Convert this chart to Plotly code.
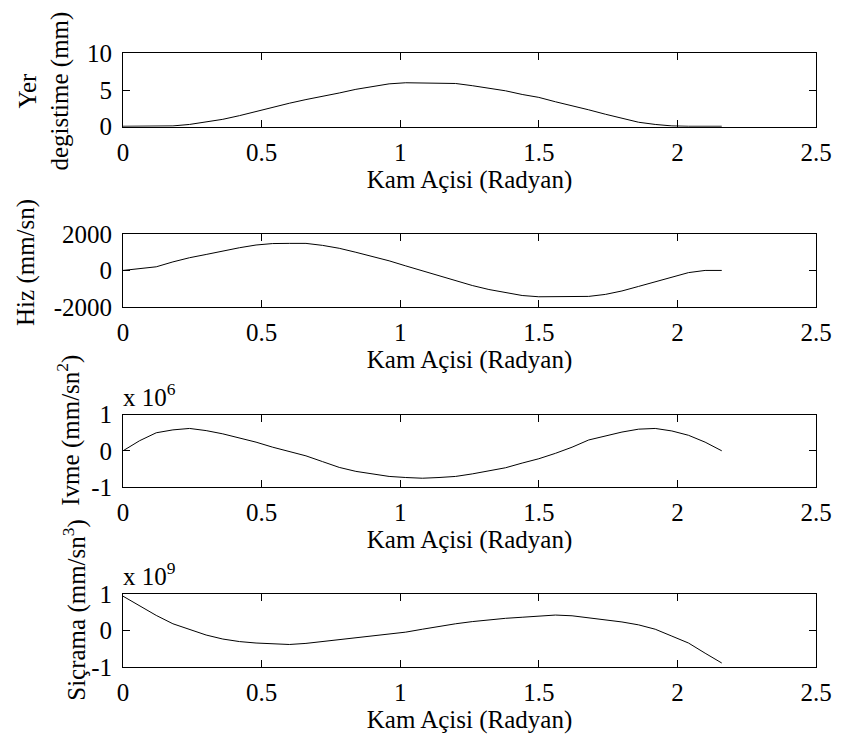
import plotly.graph_objects as go

# ---- data ----
theta = [0.00, 0.06, 0.12, 0.18, 0.24, 0.30, 0.36, 0.42, 0.48, 0.54, 0.60, 0.66,
         0.72, 0.78, 0.84, 0.90, 0.96, 1.02, 1.08, 1.14, 1.20, 1.26, 1.32, 1.38,
         1.44, 1.50, 1.56, 1.62, 1.68, 1.74, 1.80, 1.86, 1.92, 1.98, 2.04, 2.10, 2.16]

displacement_mm = [0.05, 0.05, 0.05, 0.1, 0.3, 0.6, 1.0, 1.5, 2.1, 2.6, 3.2, 3.7,
                   4.1, 4.6, 5.1, 5.5, 5.85, 6.0, 6.0, 6.0, 5.9, 5.6, 5.3, 4.9,
                   4.4, 4.0, 3.4, 2.9, 2.3, 1.7, 1.1, 0.6, 0.3, 0.1, 0.05, 0.05, 0.05]

velocity_mms = [0, 80, 200, 470, 700, 880, 1080, 1250, 1400, 1480, 1490, 1490,
                1380, 1220, 1000, 780, 530, 250, -20, -300, -570, -830, -1050, -1230,
                -1380, -1450, -1450, -1450, -1430, -1320, -1130, -880, -620, -380, -120, 0, 0]

accel_e6 = [0.0, 0.28, 0.50, 0.58, 0.62, 0.56, 0.47, 0.36, 0.24, 0.10, -0.02, -0.14,
            -0.30, -0.46, -0.57, -0.65, -0.71, -0.74, -0.76, -0.74, -0.71, -0.64, -0.56, -0.47,
            -0.34, -0.22, -0.07, 0.10, 0.30, 0.42, 0.52, 0.60, 0.62, 0.55, 0.43, 0.24, 0.0]

jerk_e9 = [0.95, 0.68, 0.42, 0.19, 0.03, -0.12, -0.23, -0.30, -0.34, -0.37, -0.38, -0.35,
           -0.30, -0.25, -0.21, -0.16, -0.10, -0.04, 0.04, 0.12, 0.19, 0.25, 0.30, 0.34,
           0.37, 0.40, 0.43, 0.41, 0.36, 0.30, 0.24, 0.16, 0.04, -0.15, -0.34, -0.62, -0.89]

x_ticks = [0, 0.5, 1, 1.5, 2, 2.5]
x_ticktext = ["0", "0.5", "1", "1.5", "2", "2.5"]
y_ticks = [[0, 5, 10], [-2000, 0, 2000], [-1, 0, 1], [-1, 0, 1]]
y_ticktext = [["0", "5", "10"], ["-2000", "0", "2000"], ["-1", "0", "1"], ["-1", "0", "1"]]
y_ranges = [[0, 10], [-2000, 2000], [-1, 1], [-1, 1]]
x_title = "Kam Açisi (Radyan)"
y_titles = ["Yer<br>degistime (mm)", "Hiz (mm/sn)", "Ivme (mm/sn<sup>2</sup>)",
            "Siçrama (mm/sn<sup>3</sup>)"]
exponents = [None, None, "x 10<sup>6</sup>", "x 10<sup>9</sup>"]
series = [displacement_mm, velocity_mms, accel_e6, jerk_e9]

# ---- layout geometry ----
W, H = 844, 738
L, R, T, B = 123, 21, 53, 68
PW, PH = W - L - R, H - T - B
FONT = "Liberation Serif"
FS = 25


def px2x(px):
    return (px - L) / PW


def py2y(py):
    return (H - B - py) / PH


axes_px = [(53.5, 127), (235, 308), (416.5, 489), (597, 670)]  # top, bottom in px
ytitle_pos = [(44, 91), (25, 263), (68, 432), (74, 612)]

fig = go.Figure()
layout = dict(
    width=W, height=H,
    margin=dict(l=L, r=R, t=T, b=B, pad=0),
    paper_bgcolor="white", plot_bgcolor="white",
    showlegend=False,
    font=dict(family=FONT, size=FS, color="black"),
    annotations=[],
)

for i in range(4):
    n = "" if i == 0 else str(i + 1)
    top, bot = axes_px[i]
    fig.add_trace(go.Scatter(x=theta, y=series[i], mode="lines",
                             line=dict(color="black", width=1),
                             xaxis="x" + n, yaxis="y" + n, hoverinfo="skip"))
    common = dict(showline=True, linecolor="black", linewidth=1, mirror="ticks",
                  ticks="inside", ticklen=7, tickwidth=1, tickcolor="black",
                  showgrid=False, zeroline=False,
                  tickfont=dict(family=FONT, size=FS, color="black"))
    layout["xaxis" + n] = dict(common, domain=[0, 1], range=[0, 2.5],
                               tickvals=x_ticks, ticktext=x_ticktext,
                               anchor="y" + n, ticklabelstandoff=3,
                               title=dict(text=x_title, standoff=2,
                                          font=dict(family=FONT, size=FS, color="black")))
    layout["yaxis" + n] = dict(common, domain=[py2y(bot), py2y(top)], range=y_ranges[i],
                               tickvals=y_ticks[i], ticktext=y_ticktext[i],
                               anchor="x" + n, ticklabelstandoff=5)
    tx, ty = ytitle_pos[i]
    layout["annotations"].append(dict(
        text=y_titles[i], xref="paper", yref="paper", x=px2x(tx), y=py2y(ty),
        xanchor="center", yanchor="middle", textangle=-90, showarrow=False,
        font=dict(family=FONT, size=FS, color="black")))
    if exponents[i]:
        layout["annotations"].append(dict(
            text=exponents[i], xref="paper", yref="paper", x=px2x(121), y=py2y(top - 2),
            xanchor="left", yanchor="bottom", showarrow=False,
            font=dict(family=FONT, size=FS, color="black")))

fig.update_layout(**layout)
fig.write_html("out.html")
